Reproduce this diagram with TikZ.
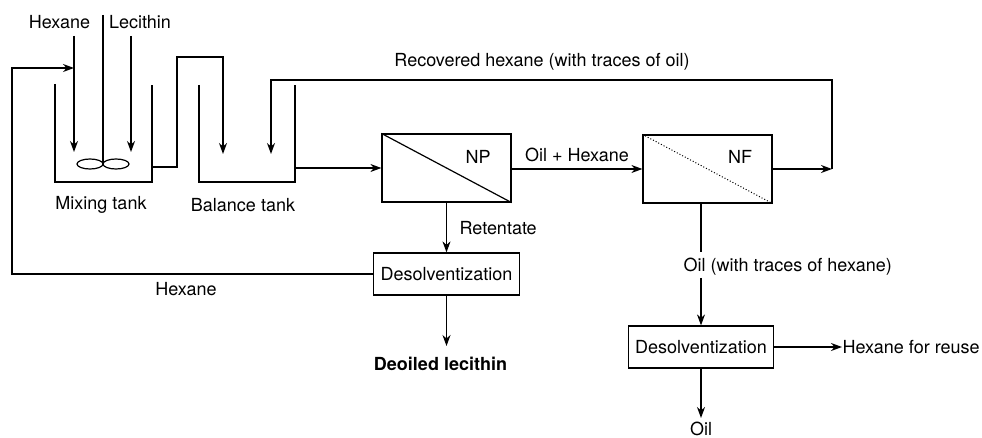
\documentclass[tikz,border=0pt]{standalone}
\usepackage{fontspec}
\setmainfont{TeX Gyre Heros}
\usetikzlibrary{arrows.meta,calc}
\begin{document}
\begin{tikzpicture}[x=1pt,y=-1pt,
  line width=1.2pt,
  every node/.style={font=\fontsize{18}{21}\selectfont, inner sep=0pt},
  arr/.style={-{Stealth[length=11pt,width=8pt,inset=3.5pt]}},
  unit/.style={draw, line width=1.2pt, minimum width=#1, minimum height=68pt},
  dsv/.style={draw, line width=1.2pt, minimum width=146pt, minimum height=42pt},
  lbl/.style={}]
\useasboundingbox (0,0) rectangle (982,438);

% labels at top
\node[lbl] (hexin) at (59.5,22) {Hexane};
\node[lbl] (lecin) at (140,22) {Lecithin};

% mixing tank
\coordinate (hexTop) at (74,36);
\coordinate (hexBot) at (74,152);
\coordinate (lecTop) at (131,36);
\coordinate (lecBot) at (131,152);
\draw[arr] (hexTop) -- (hexBot);
\draw[arr] (lecTop) -- (lecBot);
\draw (103,15) -- (103,164);
\draw (90,164) ellipse [x radius=13, y radius=5];
\draw (116,164) ellipse [x radius=13, y radius=5];
\draw (55,84) -- (55,182) -- (152,182) -- (152,85);
\node[lbl] (mixlbl) at (101,205) {Mixing tank};

% overflow to balance tank
\draw[arr] (152,167) -- (177,167) -- (177,57) -- (223,57) -- (223,154);

% balance tank
\draw (199,85) -- (199,182) -- (295,182) -- (295,85);
\node[lbl] (ballbl) at (243,205) {Balance tank};

% NP unit
\node[unit=129pt] (NP) at (446.5,168) {};
\draw (NP.north west) -- (NP.south east);
\node[lbl] (nplbl) at (478,157) {NP};
\coordinate (balOut) at (295,168);
\draw[arr] (balOut) -- (NP.west);

% NF unit
\node[unit=129pt] (NF) at (707.5,169) {};
\draw[dotted, line width=1pt] (NF.north west) -- (NF.south east);
\node[lbl] (nflbl) at (740,157) {NF};
\draw[arr] (NP.east |- NF.west) -- node[above=7pt] {Oil + Hexane} (NF.west);

% recovered hexane loop
\coordinate (recR) at (832,169);
\coordinate (recTR) at (832,80);
\coordinate (recTL) at (271,80);
\coordinate (recBot) at (271,154);
\draw[arr] (NF.east) -- (recR);
\draw[arr] (recR) -- (recTR) -- (recTL) -- (recBot);
\node[lbl] (reclbl) at (542,62) {Recovered hexane (with traces of oil)};

% Desolventization 1
\node[dsv] (des1) at (446.5,274) {Desolventization};
\draw[arr] (NP.south) -- (des1.north);
\node[lbl, anchor=west] (retlbl) at (459,228) {Retentate};
\node[lbl, font=\fontsize{18}{21}\selectfont\bfseries] (deoil) at (440.5,364) {Deoiled lecithin};
\draw[arr] (des1.south) -- (des1.south |- 0,346);

% hexane recycle
\coordinate (hxBL) at (12,274);
\coordinate (hxTL) at (12,68);
\draw[arr] (des1.west) -- (hxBL) -- (hxTL) -- (hexTop |- hxTL);
\node[lbl] (hexlbl) at (186,289) {Hexane};

% Desolventization 2
\node[dsv, minimum width=145pt] (des2) at (701,347) {Desolventization};
\node[lbl, anchor=west] (oillbl) at (683,267) {Oil (with traces of hexane)};
\draw (des2.north |- NF.south) -- (des2.north |- 0,252);
\draw[arr] (des2.north |- 0,278) -- (des2.north);
\node[lbl, anchor=west] (reuse) at (842,347) {Hexane for reuse};
\draw[arr] (des2.east) -- (reuse.west);
\node[lbl] (oilout) at (701,429) {Oil};
\draw[arr] (des2.south) -- (des2.south |- 0,418);
\end{tikzpicture}
\end{document}
